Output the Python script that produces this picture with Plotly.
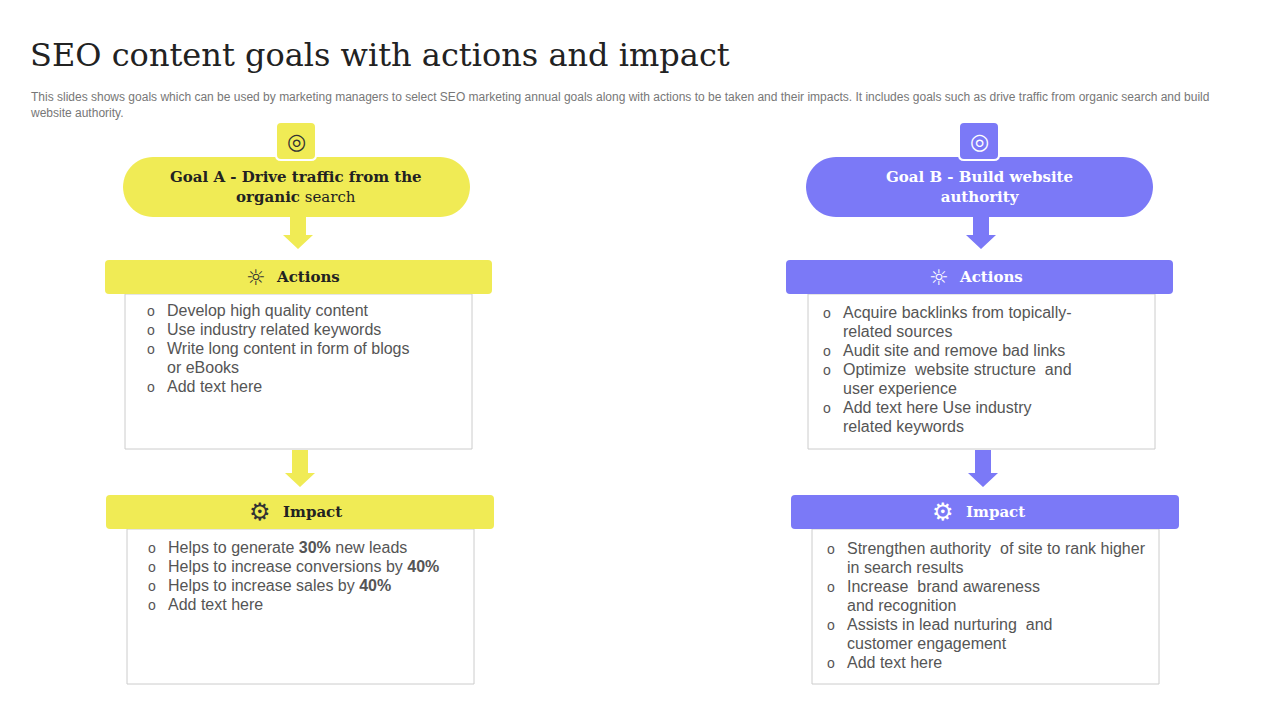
import plotly.graph_objects as go
import math

TITLE = "SEO content goals with actions and impact"
SUBTITLE = ("This slides shows goals which can be used by marketing managers to select SEO marketing annual goals along with actions to be taken and their impacts. It includes goals such as drive traffic from organic search and build<br>"
            "website authority.")
GOAL_A = "<b>Goal A - Drive traffic from the<br>organic</b> search"
GOAL_B = "<b>Goal B - Build website<br>authority</b>"
ACTIONS_A = ["Develop high quality content", "Use industry related keywords",
             "Write long content in form of blogs<br>or eBooks", "Add text here"]
IMPACT_A = ["Helps to generate <b>30%</b> new leads", "Helps to increase conversions by <b>40%</b>",
            "Helps to increase sales by <b>40%</b>", "Add text here"]
ACTIONS_B = ["Acquire backlinks from topically-<br>related sources", "Audit site and remove bad links",
             "Optimize  website structure  and<br>user experience", "Add text here Use industry<br>related keywords"]
IMPACT_B = ["Strengthen authority  of site to rank higher<br>in search results", "Increase  brand awareness<br>and recognition",
            "Assists in lead nurturing  and<br>customer engagement", "Add text here"]

YEL = "#F0EB55"
PUR = "#7B79F7"
TXT = "#555555"

fig = go.Figure()
shapes = []
ann = []

def rrect(x0, y0, x1, y1, r, fill, line="rgba(0,0,0,0)", lw=0):
    p = (f"M{x0+r},{y0} L{x1-r},{y0} Q{x1},{y0} {x1},{y0+r} L{x1},{y1-r} Q{x1},{y1} {x1-r},{y1} "
         f"L{x0+r},{y1} Q{x0},{y1} {x0},{y1-r} L{x0},{y0+r} Q{x0},{y0} {x0+r},{y0} Z")
    shapes.append(dict(type="path", path=p, fillcolor=fill, line=dict(color=line, width=lw), layer="above"))

def pill(x0, y0, x1, y1, fill):
    r = (y1 - y0) / 2
    cy = (y0 + y1) / 2
    pts = []
    for i in range(31):
        a = -math.pi/2 + math.pi * i / 30
        pts.append((x1 - r + r*math.cos(a), cy + r*math.sin(a)))
    for i in range(31):
        a = math.pi/2 + math.pi * i / 30
        pts.append((x0 + r + r*math.cos(a), cy + r*math.sin(a)))
    p = "M" + " L".join(f"{x:.1f},{y:.1f}" for x, y in pts) + " Z"
    shapes.append(dict(type="path", path=p, fillcolor=fill, line=dict(width=0)))

def arrow(cx, y0, y1, fill):
    p = (f"M{cx-8},{y0} L{cx+8},{y0} L{cx+8},{y1-14} L{cx+15},{y1-14} L{cx},{y1} "
         f"L{cx-15},{y1-14} L{cx-8},{y1-14} Z")
    shapes.append(dict(type="path", path=p, fillcolor=fill, line=dict(width=0)))

def box(x0, y0, x1, y1):
    shapes.append(dict(type="rect", x0=x0, y0=y0, x1=x1, y1=y1, fillcolor="white",
                       line=dict(color="#CCCCCC", width=1), layer="below"))

def bullets(items, x, y0):
    y = y0
    for it in items:
        lines = it.split("<br>")
        ann.append(dict(x=x - 14, y=y + 10, text="o", showarrow=False, xanchor="center", yanchor="middle",
                        font=dict(family="Liberation Sans", size=14, color=TXT)))
        for ln in lines:
            ann.append(dict(x=x, y=y + 9, text=ln, showarrow=False, xanchor="left", yanchor="middle",
                            font=dict(family="Liberation Sans", size=16, color=TXT)))
            y += 19

def icon(cx, cy, fill, glyph_color):
    rrect(cx-20, cy-19, cx+20, cy+19, 5, fill, "white", 2)
    ann.append(dict(x=cx, y=cy, text="◎", showarrow=False, font=dict(family="DejaVu Sans", size=22, color=glyph_color)))

def column(ox, fill, gcol, tcol, goal, acts, imps, dx_a, dx_i, y_act, y_imp, tx_a, tx_i):
    box(127+ox, 294, 474+ox, 449)
    box(129+ox+dx_i, 529, 476+ox+dx_i, 684)
    pill(125+ox, 157, 472+ox, 217, fill)
    icon(298+ox, 141, fill, gcol)
    ann.append(dict(x=298+ox, y=187, text=goal, showarrow=False, font=dict(family="DejaVu Serif", size=15, color=tcol)))
    arrow(300+ox, 217, 249, fill)
    rrect(107+ox+dx_a, 260, 494+ox+dx_a, 294, 4, fill)
    ann.append(dict(x=310+ox, y=277, text="<b>Actions</b>", showarrow=False, font=dict(family="DejaVu Serif", size=15, color=tcol)))
    ann.append(dict(x=258+ox, y=277, text="☼", showarrow=False, font=dict(family="DejaVu Sans", size=22, color=gcol)))
    arrow(302+ox, 450, 487, fill)
    rrect(108+ox+dx_i, 495, 496+ox+dx_i, 529, 4, fill)
    ann.append(dict(x=314+ox, y=512, text="<b>Impact</b>", showarrow=False, font=dict(family="DejaVu Serif", size=15, color=tcol)))
    ann.append(dict(x=262+ox, y=512, text="⚙", showarrow=False, font=dict(family="DejaVu Sans", size=24, color=gcol)))
    bullets(acts, tx_a, y_act)
    bullets(imps, tx_i, y_imp)

column(0, YEL, "#333333", "#222222", GOAL_A, ACTIONS_A, IMPACT_A, 0, 0, 301, 538, 167, 168)
column(683, PUR, "white", "white", GOAL_B, ACTIONS_B, IMPACT_B, -2, 2, 303, 539, 843, 847)

ann.append(dict(x=30, y=55, text=TITLE, showarrow=False, xanchor="left",
                font=dict(family="DejaVu Serif", size=32, color="#222222")))
ann.append(dict(x=30, y=88, text=SUBTITLE, showarrow=False, xanchor="left", yanchor="top", align="left",
                font=dict(family="Liberation Sans", size=12, color="#777777")))

fig.update_layout(width=1280, height=720, margin=dict(l=0, r=0, t=0, b=0),
                  paper_bgcolor="white", plot_bgcolor="white", shapes=shapes, annotations=ann,
                  xaxis=dict(range=[10, 1290], visible=False, fixedrange=True),
                  yaxis=dict(range=[728, 8], visible=False, fixedrange=True), showlegend=False)
fig.write_html("out.html", config={"displayModeBar": False})
